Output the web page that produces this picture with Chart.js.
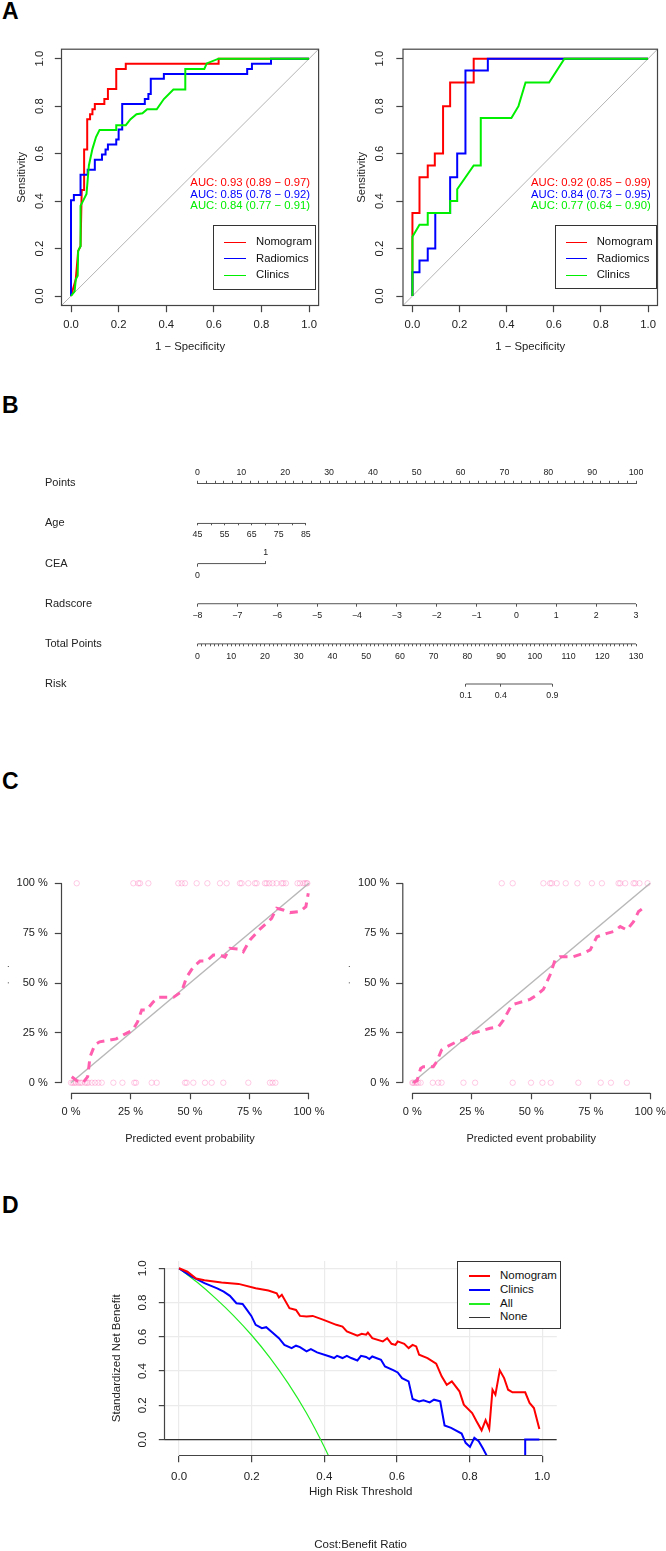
<!DOCTYPE html>
<html>
<head>
<meta charset="utf-8">
<title>Nomogram figure</title>
<script src="https://cdn.jsdelivr.net/npm/chart.js@4.4.1/dist/chart.umd.min.js"></script>
<style>
  html, body { margin: 0; padding: 0; background: #fff; }
  #page { position: relative; width: 666px; height: 1551px; overflow: hidden; font-family: 'Liberation Sans', Arial, sans-serif; color: #222; }
  #page canvas { position: absolute; }
  .tag { position: absolute; left: 2px; font: bold 23px/1 'Liberation Sans', Arial, sans-serif; color: #000; }
  .txt { position: absolute; white-space: nowrap; line-height: 1; }
  .leg { position: absolute; border: 1px solid #333; background: #fff; box-sizing: border-box; }
  .leg span { position: absolute; white-space: nowrap; line-height: 1; }
</style>
</head>
<body>
<div id="page">
  <div class="tag" style="top:0px">A</div>
  <div class="tag" style="top:393.7px">B</div>
  <div class="tag" style="top:770px">C</div>
  <div class="tag" style="top:1194px">D</div>
  <canvas id="rocTrain" width="333" height="370" style="left:0;top:0"></canvas>
  <canvas id="rocValid" width="333" height="370" style="left:333px;top:0"></canvas>
  <canvas id="nomo" width="666" height="280" style="left:0;top:440px"></canvas>
  <canvas id="calTrain" width="333" height="310" style="left:0;top:850px"></canvas>
  <canvas id="calValid" width="333" height="310" style="left:333px;top:850px"></canvas>
  <canvas id="dca" width="666" height="321" style="left:0;top:1230px"></canvas>
</div>
<script>
Chart.defaults.font.family = "'Liberation Sans', Arial, Helvetica, sans-serif";
Chart.defaults.color = '#222';

// ---------- A: ROC curves ----------
var rocNames = ['Nomogram', 'Radiomics', 'Clinics'];
var rocColors = ['#ff0000', '#0000ff', '#00ee00'];
var rocRange = [-0.04, 1.04];
var unitTicks = [0, 0.2, 0.4, 0.6, 0.8, 1];

// training set
var trNomoFpr = [0, 0.02, 0.03, 0.04, 0.045, 0.055, 0.055, 0.068, 0.068, 0.08, 0.08, 0.09, 0.09, 0.1, 0.1, 0.14, 0.14, 0.155, 0.155, 0.19, 0.19, 0.23, 0.23, 0.62, 0.62, 1];
var trNomoTpr = [0, 0.07, 0.19, 0.21, 0.447, 0.447, 0.617, 0.617, 0.745, 0.745, 0.766, 0.766, 0.787, 0.787, 0.809, 0.809, 0.83, 0.83, 0.872, 0.872, 0.957, 0.957, 0.979, 0.979, 1, 1];
var trRadFpr = [0, 0, 0.012, 0.012, 0.04, 0.04, 0.07, 0.07, 0.1, 0.1, 0.13, 0.13, 0.145, 0.145, 0.155, 0.155, 0.19, 0.19, 0.2, 0.2, 0.215, 0.215, 0.31, 0.31, 0.325, 0.325, 0.335, 0.335, 0.39, 0.39, 0.74, 0.74, 0.76, 0.76, 0.84, 0.84, 1];
var trRadTpr = [0, 0.404, 0.404, 0.426, 0.426, 0.511, 0.511, 0.532, 0.532, 0.574, 0.574, 0.596, 0.596, 0.617, 0.617, 0.638, 0.638, 0.66, 0.66, 0.702, 0.702, 0.809, 0.809, 0.83, 0.83, 0.851, 0.851, 0.915, 0.915, 0.936, 0.936, 0.957, 0.957, 0.979, 0.979, 1, 1];
var trCliFpr = [0, 0.015, 0.02, 0.028, 0.03, 0.04, 0.04, 0.05, 0.065, 0.075, 0.09, 0.105, 0.12, 0.19, 0.19, 0.23, 0.25, 0.275, 0.3, 0.32, 0.36, 0.39, 0.43, 0.48, 0.48, 0.56, 0.57, 0.62, 1];
var trCliTpr = [0, 0.02, 0.07, 0.085, 0.19, 0.21, 0.38, 0.4, 0.43, 0.55, 0.62, 0.67, 0.7, 0.7, 0.72, 0.72, 0.745, 0.766, 0.77, 0.787, 0.787, 0.83, 0.87, 0.87, 0.957, 0.957, 0.98, 1, 1];
var trAuc = [0.93, 0.85, 0.84];
var trLow = [0.89, 0.78, 0.77];
var trHigh = [0.97, 0.92, 0.91];

// validation set
var vaNomoFpr = [0, 0, 0.03, 0.03, 0.065, 0.065, 0.095, 0.095, 0.13, 0.13, 0.16, 0.16, 0.26, 0.26, 1];
var vaNomoTpr = [0, 0.35, 0.35, 0.5, 0.5, 0.55, 0.55, 0.6, 0.6, 0.8, 0.8, 0.9, 0.9, 1, 1];
var vaRadFpr = [0, 0, 0.03, 0.03, 0.065, 0.065, 0.097, 0.097, 0.16, 0.16, 0.19, 0.19, 0.225, 0.225, 0.32, 0.32, 1];
var vaRadTpr = [0, 0.1, 0.1, 0.15, 0.15, 0.2, 0.2, 0.35, 0.35, 0.5, 0.5, 0.6, 0.6, 0.95, 0.95, 1, 1];
var vaCliFpr = [0, 0, 0.03, 0.065, 0.065, 0.16, 0.16, 0.19, 0.19, 0.26, 0.29, 0.29, 0.42, 0.45, 0.48, 0.58, 0.645, 1];
var vaCliTpr = [0, 0.25, 0.3, 0.3, 0.35, 0.35, 0.4, 0.4, 0.45, 0.55, 0.55, 0.75, 0.75, 0.8, 0.9, 0.9, 1, 1];
var vaAuc = [0.92, 0.84, 0.77];
var vaLow = [0.85, 0.73, 0.64];
var vaHigh = [0.99, 0.95, 0.90];

// ---------- B: nomogram ----------
var nomoRows = ['Points', 'Age', 'CEA', 'Radscore', 'Total Points', 'Risk'];
var ageTicks = [45, 50, 55, 60, 65, 70, 75, 80, 85];
var ageLabelled = [45, 55, 65, 75, 85];
var agePointsMax = 24.7;        // points for age 85
var ceaLevels = [0, 1];
var ceaPoints = 15.55;          // points for CEA = 1
var radTicks = [-8, -7, -6, -5, -4, -3, -2, -1, 0, 1, 2, 3];
var riskLabels = ['0.1', '0.4', '0.9'];
var riskAtTotal = [79.5, 89.9, 105.2];
var pointsTicks = [];
for (var p = 0; p <= 100; p += 2) pointsTicks.push(p);
var totalTicks = [];
for (var t = 0; t <= 130; t += 1.25) totalTicks.push(t);

// ---------- C: calibration ----------
var pctTicks = [0, 25, 50, 75, 100];
var calTrX = [0.3, 2.4, 5, 7, 8, 10, 12, 16.4, 19, 22, 26, 28, 29.7, 31.8, 34.6, 36.7, 43, 46.5, 48.6, 51.4, 54.2, 57, 59.8, 62.6, 64.7, 66.8, 71, 72.4, 75.2, 79.4, 82.2, 84.3, 86.4, 89.2, 92, 96.2, 98.7, 99.7];
var calTrY = [3, 1, 0, 3, 13, 19, 20.5, 21.4, 22, 24, 26.4, 30.6, 36.5, 36.5, 40.6, 42.8, 42.8, 45.7, 53, 58, 61, 61, 64, 64, 63, 67.4, 67, 65.7, 71.6, 77, 80, 82.4, 87.5, 86.6, 85.3, 85.8, 88.3, 95];
var calTrEvent = [2.4, 26.2, 28.3, 29.0, 32.5, 45.1, 46.5, 47.9, 52.8, 57.3, 62.6, 65.4, 71.0, 71.7, 74.5, 77.3, 78.0, 81.5, 82.2, 83.3, 84.7, 86.4, 88.5, 89.2, 90.3, 95.2, 96.2, 97.6, 98.3, 99.0, 99.3];
var calTrNoEvent = [0, 0.7, 1.4, 2.1, 3.1, 3.8, 4.5, 5.9, 6.6, 7.3, 8.7, 10.1, 11.5, 12.9, 17.8, 21.6, 26.6, 27.3, 33.9, 36.0, 47.9, 48.6, 51.4, 56.3, 59.1, 64.0, 74.5, 83.6, 84.7, 85.9];
var calVaX = [0.4, 2, 3.5, 4.6, 8.8, 10.2, 12.3, 14.4, 18.7, 21.5, 25, 27.8, 32.7, 36.2, 38.3, 41.8, 43.9, 49.5, 52.3, 55.1, 57.9, 60, 62.1, 67.7, 71.9, 74.8, 77.6, 81.8, 84.6, 87.4, 90.2, 93, 95.1, 97.9];
var calVaY = [0, 1, 7.2, 8, 8, 10.5, 16.4, 18, 20.6, 21.4, 24.7, 25.6, 27.3, 28, 31.4, 39, 39.8, 41.8, 44, 46.8, 54, 61.5, 63.2, 63.2, 64.9, 66.6, 73.2, 74.9, 75.8, 78.3, 76.6, 80.8, 85.8, 88.3];
var calVaEvent = [37.6, 42.2, 55.1, 57.9, 58.6, 60.7, 64.5, 69.4, 75.5, 79.7, 86.7, 87.4, 89.5, 93.0, 93.7, 95.5, 98.9];
var calVaNoEvent = [0, 0.4, 1.1, 1.8, 2.5, 3.5, 8.6, 10.9, 12.3, 21.5, 26.4, 42.2, 49.9, 54.7, 58.2, 69.8, 79.2, 83.5, 90.2];

// ---------- D: decision curve ----------
var dcaNames = ['Nomogram', 'Clinics', 'All', 'None'];
var dcaColors = ['#ff0000', '#0000ff', '#22ee22', '#333333'];
var nomoThr = [0, 0.023, 0.047, 0.07, 0.117, 0.164, 0.211, 0.246, 0.269, 0.275, 0.283, 0.304, 0.322, 0.333, 0.351, 0.368, 0.398, 0.433, 0.45, 0.462, 0.491, 0.503, 0.515, 0.52, 0.532, 0.561, 0.573, 0.585, 0.596, 0.602, 0.62, 0.632, 0.643, 0.653, 0.661, 0.684, 0.708, 0.723, 0.737, 0.751, 0.772, 0.784, 0.807, 0.819, 0.833, 0.844, 0.854, 0.863, 0.871, 0.883, 0.895, 0.906, 0.918, 0.953, 0.965, 0.977, 0.992];
var nomoNB = [1.0, 0.98, 0.94, 0.93, 0.917, 0.909, 0.883, 0.87, 0.854, 0.83, 0.845, 0.767, 0.757, 0.722, 0.718, 0.722, 0.699, 0.67, 0.66, 0.631, 0.606, 0.617, 0.612, 0.625, 0.592, 0.573, 0.592, 0.559, 0.553, 0.573, 0.559, 0.534, 0.553, 0.544, 0.495, 0.476, 0.443, 0.369, 0.32, 0.34, 0.282, 0.204, 0.155, 0.107, 0.054, 0.113, 0.062, 0.291, 0.262, 0.404, 0.359, 0.291, 0.276, 0.276, 0.214, 0.184, 0.062];
var cliThr = [0, 0.035, 0.07, 0.105, 0.123, 0.14, 0.158, 0.175, 0.187, 0.199, 0.211, 0.228, 0.24, 0.257, 0.275, 0.29, 0.31, 0.322, 0.333, 0.351, 0.363, 0.38, 0.415, 0.427, 0.435, 0.45, 0.462, 0.474, 0.491, 0.501, 0.515, 0.524, 0.532, 0.556, 0.567, 0.591, 0.602, 0.614, 0.632, 0.643, 0.661, 0.673, 0.69, 0.702, 0.719, 0.731, 0.749, 0.778, 0.789, 0.801, 0.813, 0.825, 0.836, 0.848, 0.86, 0.953, 0.953, 0.992];
var cliNB = [1.0, 0.951, 0.913, 0.883, 0.864, 0.839, 0.796, 0.792, 0.757, 0.722, 0.67, 0.65, 0.656, 0.625, 0.592, 0.553, 0.534, 0.548, 0.54, 0.515, 0.528, 0.509, 0.485, 0.476, 0.489, 0.476, 0.489, 0.476, 0.462, 0.489, 0.482, 0.47, 0.485, 0.466, 0.427, 0.404, 0.392, 0.359, 0.34, 0.237, 0.223, 0.229, 0.217, 0.233, 0.223, 0.082, 0.068, 0.035, -0.019, -0.043, 0.01, -0.01, -0.049, -0.097, -0.3, -0.3, 0, 0];
var allThr = [0, 0.05, 0.1, 0.15, 0.2, 0.25, 0.3, 0.35, 0.4, 0.42];
var allNB = [1.0, 0.918, 0.826, 0.724, 0.609, 0.479, 0.33, 0.158, -0.043, -0.133];
var noneThr = [-0.04, 1.04];
var noneNB = [0, 0];
var dcaRangeY = [-0.093, 1.042];

// ---------- helpers ----------
function pairs(xs, ys) {
  return xs.map(function (x, i) { return { x: x, y: ys[i] }; });
}
function useTicks(list) {
  return function (s) { s.ticks = list.map(function (v) { return { value: v }; }); };
}
function fixSize(size) {
  return function (s) {
    if (s.isHorizontal()) { s.height = size; s.paddingLeft = 0; s.paddingRight = 0; }
    else { s.width = size; s.paddingTop = 0; s.paddingBottom = 0; }
  };
}
function noPad(s) { s.paddingLeft = 0; s.paddingRight = 0; s.paddingTop = 0; s.paddingBottom = 0; }
function oneDec(v) { return v.toFixed(1); }
function pct(v) { return v + ' %'; }

// box around plot region (R box())
var framePlugin = {
  id: 'frame',
  defaults: { show: false },
  afterDraw: function (chart, args, opts) {
    if (!opts.show) return;
    var a = chart.chartArea, c = chart.ctx;
    c.save();
    c.strokeStyle = '#444';
    c.lineWidth = 1.2;
    c.strokeRect(a.left, a.top, a.right - a.left, a.bottom - a.top);
    c.restore();
  }
};
// R style axis line: only between first and last tick
var rAxisPlugin = {
  id: 'rAxis',
  afterDraw: function (chart) {
    var c = chart.ctx;
    Object.keys(chart.scales).forEach(function (k) {
      var s = chart.scales[k];
      if (!s.options.rLine || !s.ticks.length) return;
      var a = s.getPixelForValue(s.ticks[0].value);
      var b = s.getPixelForValue(s.ticks[s.ticks.length - 1].value);
      c.save();
      c.strokeStyle = '#444';
      c.lineWidth = 1.2;
      c.beginPath();
      if (s.isHorizontal()) { c.moveTo(a, s.top); c.lineTo(b, s.top); }
      else { c.moveTo(s.right, a); c.lineTo(s.right, b); }
      c.stroke();
      c.restore();
    });
  }
};
Chart.register(framePlugin, rAxisPlugin);

var page = document.getElementById('page');

function boxLegend(chart, g) {
  var box = document.createElement('div');
  box.className = 'leg';
  box.style.cssText = 'left:' + g.x + 'px;top:' + g.y + 'px;width:' + g.w + 'px;height:' + g.h + 'px';
  chart.data.datasets.filter(function (d) { return d.label; }).forEach(function (d, i) {
    var cy = g.first + i * g.step;
    var lw = g.lws ? g.lws[i] : d.borderWidth;
    var ln = document.createElement('span');
    ln.style.cssText = 'left:' + g.lineX + 'px;width:' + g.lineW + 'px;top:' + Math.round(cy - lw / 2) + 'px;height:' + lw + 'px;background:' + d.borderColor;
    var tx = document.createElement('span');
    tx.textContent = d.label;
    tx.style.cssText = 'left:' + g.textX + 'px;top:' + (cy - g.size / 2) + 'px;font-size:' + g.size + 'px;color:#111';
    box.appendChild(ln);
    box.appendChild(tx);
  });
  page.appendChild(box);
}

function aucText(auc, lo, hi, right, top, step) {
  auc.forEach(function (a, i) {
    var t = document.createElement('div');
    t.className = 'txt';
    t.textContent = 'AUC: ' + a.toFixed(2) + ' (' + lo[i].toFixed(2) + ' \u2212 ' + hi[i].toFixed(2) + ')';
    t.style.cssText = 'right:' + (666 - right) + 'px;top:' + (top + i * step - 5.65) + 'px;font-size:11.3px;color:' + rocColors[i];
    page.appendChild(t);
  });
}

function axisGrid(tl) {
  return { drawOnChartArea: false, tickLength: tl, tickColor: '#444', tickWidth: 1.2 };
}

// ---------- A ----------
function rocChart(id, curves, g) {
  var sets = curves.map(function (c, i) {
    return { label: rocNames[i], data: pairs(c[0], c[1]), borderColor: rocColors[i], borderWidth: 2, order: 3 - i };
  });
  sets.push({ data: pairs(rocRange, rocRange), borderColor: '#b4b4b4', borderWidth: 1, order: 9 });
  return new Chart(document.getElementById(id), {
    type: 'line',
    data: { datasets: sets },
    options: {
      responsive: false, animation: false, events: [],
      layout: { padding: { top: 49.2, right: g.right, bottom: 0, left: 0 }, autoPadding: false },
      elements: { point: { radius: 0 }, line: { tension: 0 } },
      plugins: { legend: { display: false }, tooltip: { enabled: false }, frame: { show: true } },
      scales: {
        x: {
          type: 'linear', bounds: 'data', min: rocRange[0], max: rocRange[1],
          afterBuildTicks: useTicks(unitTicks), afterFit: fixSize(64.5),
          border: { display: false }, grid: axisGrid(6.7),
          ticks: { callback: oneDec, padding: 6, font: { size: 11.3 }, autoSkip: false, maxRotation: 0 },
          title: { display: true, text: '1 \u2212 Specificity', font: { size: 11.3 }, padding: { top: 0, bottom: 16.2 } }
        },
        y: {
          type: 'linear', bounds: 'data', min: rocRange[0], max: rocRange[1],
          afterBuildTicks: useTicks(unitTicks), afterFit: fixSize(g.yw),
          border: { display: false }, grid: axisGrid(6.7),
          ticks: { callback: oneDec, minRotation: 90, maxRotation: 90, crossAlign: 'center', padding: g.ypad, font: { size: 11.3 }, autoSkip: false },
          title: { display: true, text: 'Sensitivity', font: { size: 11.3 }, padding: { top: g.tpad, bottom: 0 } }
        }
      }
    }
  });
}

var rocA = rocChart('rocTrain', [[trNomoFpr, trNomoTpr], [trRadFpr, trRadTpr], [trCliFpr, trCliTpr]], { right: 14.4, yw: 61.5, ypad: 6.8, tpad: 15.2 });
var rocB = rocChart('rocValid', [[vaNomoFpr, vaNomoTpr], [vaRadFpr, vaRadTpr], [vaCliFpr, vaCliTpr]], { right: 8.5, yw: 70, ypad: 8.3, tpad: 21.9 });
aucText(trAuc, trLow, trHigh, 310, 182.7, 11.5);
aucText(vaAuc, vaLow, vaHigh, 650.7, 182.7, 11.5);
boxLegend(rocA, { x: 213.3, y: 225, w: 102.7, h: 65, first: 16, step: 16.5, lineX: 9.7, lineW: 22, textX: 41.7, size: 11.3, lws: [1, 1, 1] });
boxLegend(rocB, { x: 555, y: 225, w: 101.7, h: 64.3, first: 16, step: 16.5, lineX: 10, lineW: 21, textX: 40.7, size: 11.3, lws: [1, 1, 1] });

// ---------- B ----------
var NOMO_LINE = '#555';
function rowAxis(row, min, max, ticks, label, tl, pad) {
  return {
    type: 'linear', axis: 'x', bounds: 'data', position: { y: nomoRows.indexOf(row) }, min: min, max: max,
    afterBuildTicks: useTicks(ticks), afterFit: noPad,
    border: { display: false },
    grid: { drawOnChartArea: false, tickLength: tl, tickColor: NOMO_LINE, tickWidth: 1 },
    ticks: { callback: label, padding: pad, font: { size: 8.8 }, autoSkip: false, maxRotation: 0, color: '#222' }
  };
}
function rowLine(row, axisId, xs) {
  return { xAxisID: axisId, yAxisID: 'y', data: xs.map(function (x) { return { x: x, y: row }; }), borderColor: NOMO_LINE, borderWidth: 1, clip: false };
}
function tens(v) { return Math.abs(v / 10 - Math.round(v / 10)) < 1e-6 ? String(Math.round(v)) : ''; }
function minus(v) { return v < 0 ? '\u2212' + Math.abs(v) : String(v); }

var ageMax = ageTicks[0] + (ageTicks[ageTicks.length - 1] - ageTicks[0]) * 100 / agePointsMax;
var ceaMax = ceaLevels[1] * 100 / ceaPoints;

new Chart(document.getElementById('nomo'), {
  type: 'line',
  data: {
    datasets: [
      rowLine('Age', 'xAge', [ageTicks[0], ageTicks[ageTicks.length - 1]]),
      rowLine('CEA', 'xCea0', ceaLevels),
      rowLine('Radscore', 'xRad', [radTicks[0], radTicks[radTicks.length - 1]]),
      rowLine('Total Points', 'xTot', [totalTicks[0], totalTicks[totalTicks.length - 1]]),
      rowLine('Risk', 'xRisk', [riskAtTotal[0], riskAtTotal[riskAtTotal.length - 1]])
    ]
  },
  options: {
    responsive: false, animation: false, events: [],
    layout: { padding: { top: 18.3, right: 30, bottom: 36, left: 45 }, autoPadding: false },
    elements: { point: { radius: 0 }, line: { tension: 0 } },
    plugins: { legend: { display: false }, tooltip: { enabled: false } },
    scales: {
      x: {
        type: 'linear', position: 'top', bounds: 'data', min: 0, max: 100,
        afterBuildTicks: useTicks(pointsTicks), afterFit: fixSize(25),
        border: { display: true, color: NOMO_LINE, width: 1 },
        grid: { drawOnChartArea: false, tickLength: 2.5, tickColor: NOMO_LINE, tickWidth: 1 },
        ticks: { callback: tens, padding: 3.2, font: { size: 8.8 }, autoSkip: false, maxRotation: 0 }
      },
      y: {
        type: 'category', labels: nomoRows, offset: false, position: 'left',
        afterFit: fixSize(152.5),
        border: { display: false }, grid: { display: false },
        ticks: { crossAlign: 'far', padding: 0, font: { size: 11 }, autoSkip: false, color: '#222' }
      },
      xAge: rowAxis('Age', ageTicks[0], ageMax, ageTicks, function (v) { return ageLabelled.indexOf(v) >= 0 ? String(v) : ''; }, 2.3, 3.8),
      xCea0: rowAxis('CEA', 0, ceaMax, [ceaLevels[0]], function (v) { return String(v); }, 2.7, 3.7),
      xCea1: rowAxis('CEA', 0, ceaMax, [ceaLevels[1]], function (v) { return String(v); }, -3, -13.3),
      xRad: rowAxis('Radscore', radTicks[0], radTicks[radTicks.length - 1], radTicks, minus, 2.7, 4.0),
      xTot: rowAxis('Total Points', 0, 130, totalTicks, tens, 2.3, 4.8),
      xRisk: rowAxis('Risk', 0, 130, riskAtTotal, function (v, i) { return riskLabels[i]; }, 2.7, 4.0)
    }
  }
});

// ---------- C ----------
var CAL_PINK = '#ff5fae';
var RUG_PINK = 'rgba(255, 105, 180, 0.35)';
function calChart(id, fx, fy, events, nonEvents, g) {
  var ends = [pctTicks[0], pctTicks[pctTicks.length - 1]];
  var rug = function (xs, y) {
    return {
      data: xs.map(function (x) { return { x: x, y: y }; }), showLine: false,
      pointRadius: 2.7, pointBorderColor: RUG_PINK, pointBackgroundColor: 'rgba(0,0,0,0)', pointBorderWidth: 1, order: 3, clip: false
    };
  };
  return new Chart(document.getElementById(id), {
    type: 'line',
    data: {
      datasets: [
        { data: pairs(fx, fy), borderColor: CAL_PINK, borderWidth: 3, borderDash: [8, 6], order: 1 },
        { data: pairs(ends, ends), borderColor: '#b8b8b8', borderWidth: 1.5, order: 2 },
        rug(events, 100),
        rug(nonEvents, 0)
      ]
    },
    options: {
      responsive: false, animation: false, events: [],
      layout: { padding: { top: 25.3, right: g.right, bottom: 0, left: 0 }, autoPadding: false },
      elements: { point: { radius: 0 }, line: { tension: 0 } },
      plugins: { legend: { display: false }, tooltip: { enabled: false } },
      scales: {
        x: {
          type: 'linear', bounds: 'data', min: -4, max: 104, rLine: true,
          afterBuildTicks: useTicks(pctTicks), afterFit: fixSize(66.7),
          border: { display: false }, grid: axisGrid(6),
          ticks: { callback: pct, padding: 5.8, font: { size: 11 }, autoSkip: false, maxRotation: 0 },
          title: { display: true, text: 'Predicted event probability', font: { size: 11 }, padding: { top: 0, bottom: 14.4 } }
        },
        y: {
          type: 'linear', bounds: 'data', min: -5.3, max: 104, rLine: true,
          afterBuildTicks: useTicks(pctTicks), afterFit: fixSize(g.yw),
          border: { display: false }, grid: axisGrid(6.7),
          ticks: { callback: pct, padding: g.ypad, font: { size: 11 }, autoSkip: false },
          title: { display: true, text: '\u00a0\u00a0\u00a0\u00a0\u00a0\u00a0\u00a0.\u00a0\u00a0\u00a0\u00a0\u00a0.', color: '#333', font: { size: 10 }, padding: { top: g.tpad, bottom: 0 } }
        }
      }
    }
  });
}
calChart('calTrain', calTrX, calTrY, calTrEvent, calTrNoEvent, { right: 14.5, yw: 61.5, ypad: 7.1, tpad: 0.7 });
calChart('calValid', calVaX, calVaY, calVaEvent, calVaNoEvent, { right: 6.3, yw: 69.8, ypad: 6.8, tpad: 8.3 });

// ---------- D ----------
var dcaChart = new Chart(document.getElementById('dca'), {
  type: 'line',
  data: {
    datasets: [
      { label: dcaNames[0], data: pairs(nomoThr, nomoNB), borderColor: dcaColors[0], borderWidth: 2, order: 1 },
      { label: dcaNames[1], data: pairs(cliThr, cliNB), borderColor: dcaColors[1], borderWidth: 2, order: 2 },
      { label: dcaNames[2], data: pairs(allThr, allNB), borderColor: dcaColors[2], borderWidth: 1.2, cubicInterpolationMode: 'monotone', order: 3 },
      { label: dcaNames[3], data: pairs(noneThr, noneNB), borderColor: dcaColors[3], borderWidth: 1.3, order: 4 }
    ]
  },
  options: {
    responsive: false, animation: false, events: [],
    layout: { padding: { top: 31.1, right: 109.2, bottom: 0, left: 0 }, autoPadding: false },
    elements: { point: { radius: 0 }, line: { tension: 0 } },
    plugins: {
      legend: { display: false }, tooltip: { enabled: false },
      title: { display: true, text: 'Cost:Benefit Ratio', position: 'bottom', fullSize: false, color: '#222',
               font: { size: 11.5, weight: 'normal', lineHeight: 1 }, padding: { top: 39.5, bottom: 0 } }
    },
    scales: {
      x: {
        type: 'linear', bounds: 'data', min: -0.04, max: 1.04, rLine: true,
        afterBuildTicks: useTicks(unitTicks), afterFit: fixSize(44.5),
        border: { display: false },
        grid: { drawOnChartArea: true, color: '#ebebeb', lineWidth: 1.2, tickLength: 6.7, tickColor: '#444', tickWidth: 1.2 },
        ticks: { callback: oneDec, padding: 7.7, font: { size: 11.5 }, autoSkip: false, maxRotation: 0 },
        title: { display: true, text: 'High Risk Threshold', font: { size: 11.5 }, padding: { top: 0, bottom: 0.9 } }
      },
      y: {
        type: 'linear', bounds: 'data', min: dcaRangeY[0], max: dcaRangeY[1], rLine: true,
        afterBuildTicks: useTicks(unitTicks), afterFit: fixSize(164.5),
        border: { display: false },
        grid: { drawOnChartArea: true, color: '#ebebeb', lineWidth: 1.2, tickLength: 5.7, tickColor: '#444', tickWidth: 1.2 },
        ticks: { callback: oneDec, minRotation: 90, maxRotation: 90, crossAlign: 'center', padding: 7.5, font: { size: 11.5 }, autoSkip: false },
        title: { display: true, text: 'Standardized Net Benefit', font: { size: 11.5 }, padding: { top: 109.8, bottom: 0 } }
      }
    }
  }
});
boxLegend(dcaChart, { x: 457.3, y: 1260.7, w: 103.4, h: 68.6, first: 14.3, step: 13.7, lineX: 10.7, lineW: 21, textX: 41.7, size: 11.5, lws: [2, 2, 2, 1] });
</script>
</body>
</html>
